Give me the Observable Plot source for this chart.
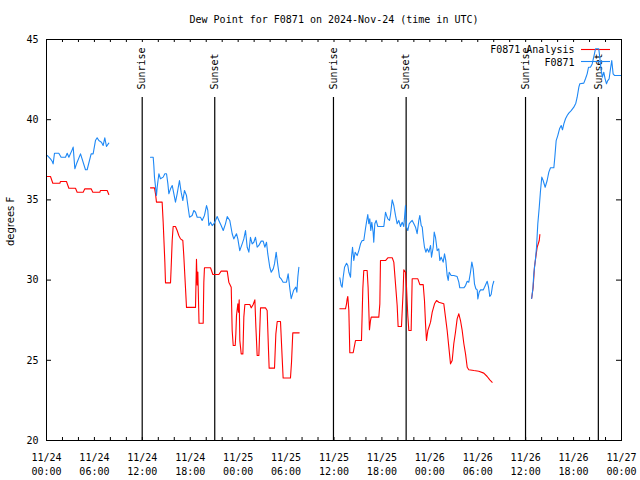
<!DOCTYPE html>
<html><head><meta charset="utf-8">
<script src="https://cdn.jsdelivr.net/npm/d3@7"></script>
<script src="https://cdn.jsdelivr.net/npm/@observablehq/plot@0.6"></script>
<style>body{margin:0;background:#fff} svg{display:block}</style>
</head><body><div id="chart"></div>
<script>
const title = "Dew Point for F0871 on 2024-Nov-24 (time in UTC)";
const yLabel = "degrees F";
const seriesNames = ["F0871 Analysis", "F0871"];
const seriesColors = ["#ff0000", "#1e88f5"];
const baseTime = "2024-11-24T00:00Z";
const endTime = "2024-11-27T00:00Z";
const yTicks = [20, 25, 30, 35, 40, 45];
const xLabelTicks = ["2024-11-24T00:00Z","2024-11-24T06:00Z","2024-11-24T12:00Z","2024-11-24T18:00Z",
  "2024-11-25T00:00Z","2024-11-25T06:00Z","2024-11-25T12:00Z","2024-11-25T18:00Z",
  "2024-11-26T00:00Z","2024-11-26T06:00Z","2024-11-26T12:00Z","2024-11-26T18:00Z","2024-11-27T00:00Z"];
const sunLabels = ["Sunrise","Sunset","Sunrise","Sunset","Sunrise","Sunset"];
const sunTimes = ["2024-11-24T11:59Z","2024-11-24T21:04Z","2024-11-25T11:56Z","2024-11-25T21:02Z","2024-11-26T11:59Z","2024-11-26T21:06Z"];

// [hours after baseTime, degrees F]
const obs1 = [[0.08,37.77],[0.5,37.56],[0.71,37.41],[0.83,37.25],[1.0,37.91],[1.54,37.91],[1.83,37.66],[2.38,37.66],[2.59,37.91],[2.8,37.66],[3.21,38.12],[3.34,38.29],[3.55,36.94],[3.76,37.25],[4.26,37.87],[4.88,36.88],[5.09,36.88],[5.59,37.87],[5.84,37.87],[6.13,38.7],[6.34,38.87],[6.55,38.7],[6.88,38.6],[7.09,38.39],[7.3,38.87],[7.51,38.33],[7.8,38.54]];
const obs2 = [[13.02,37.66],[13.36,37.66],[13.44,37.14],[13.52,36.42],[13.77,35.27],[13.86,35.79],[14.07,36.63],[14.27,36.32],[14.61,36.42],[14.82,36.63],[15.03,36.63],[15.2,36.0],[15.32,35.38],[15.53,35.69],[15.74,35.9],[15.95,35.38],[16.15,34.86],[16.36,35.38],[16.65,36.21],[16.86,35.48],[17.07,34.96],[17.28,35.59],[17.53,35.27],[17.7,34.65],[17.91,33.92],[18.24,34.03],[18.45,34.34],[18.66,34.23],[18.87,33.92],[19.28,33.92],[19.49,33.72],[19.78,34.03],[20.04,34.65],[20.2,34.34],[20.33,33.4],[20.54,33.61],[20.75,33.4],[20.95,33.5],[21.16,33.72],[21.37,33.96],[21.58,33.72],[21.87,33.4],[22.13,33.09],[22.41,33.51],[22.63,33.96],[22.95,33.72],[23.25,32.89],[23.45,32.57],[23.79,32.89],[23.96,32.57],[24.2,31.84],[24.5,32.26],[24.71,32.57],[24.92,33.09],[25.13,32.05],[25.34,31.74],[25.54,32.67],[25.75,32.26],[25.96,32.36],[26.17,32.67],[26.38,32.05],[26.59,32.16],[26.88,32.43],[27.13,32.43],[27.34,32.05],[27.55,32.36],[27.71,31.63],[27.96,30.8],[28.14,30.49],[28.39,30.7],[28.55,31.01],[28.76,31.74],[28.97,30.91],[29.18,30.18],[29.38,30.08],[29.63,29.87],[30.05,29.87],[30.26,30.39],[30.47,29.46],[30.64,28.84],[30.93,29.35],[31.22,29.56],[31.35,29.25],[31.47,30.18],[31.6,30.8]];
const obs3 = [[36.73,30.14],[36.9,29.66],[37.02,29.56],[37.15,30.18],[37.32,30.8],[37.57,31.05],[37.73,30.91],[37.86,30.49],[38.07,30.18],[38.19,31.43],[38.32,32.05],[38.48,31.22],[38.65,31.74],[38.9,31.53],[39.11,31.84],[39.32,32.26],[39.53,32.47],[39.73,32.47],[39.94,33.2],[40.07,33.61],[40.23,34.09],[40.36,33.51],[40.48,33.82],[40.61,33.09],[40.73,33.61],[40.9,32.99],[40.98,32.36],[41.11,33.51],[41.28,33.72],[41.49,33.34],[42.24,33.34],[42.45,34.23],[42.58,34.03],[42.74,33.82],[42.95,33.72],[43.08,34.09],[43.29,35.0],[43.49,34.65],[43.7,34.03],[43.91,33.51],[44.11,33.72],[44.33,33.34],[44.54,33.61],[44.74,33.34],[44.95,34.65],[45.08,33.3],[45.24,33.09],[45.41,33.51],[45.58,33.61],[45.79,33.72],[46.0,33.51],[46.21,33.3],[46.41,32.89],[46.62,33.72],[46.75,34.03],[46.92,33.4],[47.05,33.3],[47.17,32.67],[47.33,32.05],[47.5,31.74],[47.67,31.95],[47.88,31.74],[48.09,32.16],[48.21,31.43],[48.42,32.05],[48.55,32.99],[48.71,32.67],[48.92,31.84],[49.12,31.95],[49.25,31.22],[49.42,31.43],[49.67,31.12],[49.84,31.64],[50.0,31.22],[50.17,30.29],[50.3,29.98],[50.42,30.49],[50.67,30.29],[51.0,30.29],[51.42,30.22],[51.63,29.87],[51.75,29.52],[52.26,29.52],[52.47,29.66],[52.68,29.93],[52.88,29.87],[53.09,30.49],[53.26,31.12],[53.43,30.7],[53.59,29.77],[53.76,29.46],[53.93,29.39],[54.01,28.83],[54.18,29.25],[54.35,29.39],[54.68,29.39],[54.85,29.56],[55.18,29.93],[55.35,29.56],[55.51,28.98],[55.68,29.1],[55.85,29.66],[56.01,29.93]];
const obs4 = [[60.75,28.85],[60.9,29.46],[61.02,30.39],[61.23,31.33],[61.36,32.05],[61.52,33.51],[61.7,34.54],[61.86,35.59],[62.02,36.42],[62.19,36.21],[62.44,35.79],[62.69,36.21],[62.9,36.73],[63.11,37.0],[63.53,37.0],[63.65,37.66],[63.82,38.7],[64.02,39.01],[64.24,39.43],[64.45,39.64],[64.61,39.37],[64.78,39.74],[64.99,40.06],[65.2,40.26],[65.4,40.41],[65.7,40.57],[66.03,40.78],[66.28,41.03],[66.45,41.4],[66.66,42.03],[66.78,42.24],[67.28,42.28],[67.49,42.55],[67.7,42.86],[67.87,43.27],[68.11,43.27],[68.33,43.48],[68.61,44.11],[68.74,44.42],[69.15,44.42],[69.28,43.9],[69.45,43.07],[69.61,42.65],[69.78,42.96],[69.95,42.55],[70.12,42.24],[70.28,42.44],[70.45,42.55],[70.62,43.17],[70.78,43.69],[70.95,42.86],[71.12,42.76],[72.0,42.76]];

const ana1 = [[0.08,36.46],[0.5,36.46],[0.79,36.04],[1.67,36.04],[1.75,36.15],[2.5,36.15],[2.8,35.73],[3.63,35.73],[3.84,35.48],[4.59,35.48],[4.8,35.69],[5.59,35.69],[5.8,35.48],[6.68,35.48],[6.76,35.59],[7.6,35.59],[7.8,35.34]];
const ana2 = [[13.02,35.75],[13.52,35.75],[13.65,35.38],[13.77,34.86],[14.48,34.86],[14.61,33.61],[14.82,31.12],[14.9,29.83],[15.53,29.83],[15.61,30.8],[15.74,32.47],[15.86,33.34],[16.15,33.34],[16.36,33.09],[16.57,32.78],[16.78,32.57],[17.07,32.47],[17.19,31.53],[17.41,29.46],[17.53,28.3],[18.66,28.3],[18.78,31.3],[18.87,29.7],[18.95,30.5],[19.1,27.31],[19.62,27.31],[19.7,29.87],[19.78,30.77],[20.54,30.77],[20.83,30.35],[21.58,30.35],[21.87,30.56],[22.63,30.56],[22.83,29.87],[23.13,29.56],[23.25,26.86],[23.38,25.92],[23.63,25.92],[23.71,26.65],[23.79,27.79],[23.96,28.52],[24.04,28.0],[24.13,28.77],[24.21,26.23],[24.38,25.4],[24.59,25.4],[24.71,27.69],[24.84,28.48],[25.46,28.48],[25.63,28.27],[25.88,28.48],[26.09,28.77],[26.22,27.06],[26.38,25.3],[26.59,25.3],[26.67,26.44],[26.8,28.27],[27.42,28.27],[27.63,28.1],[27.8,25.61],[27.88,24.51],[28.55,24.51],[28.72,26.65],[28.89,27.42],[29.3,27.42],[29.51,25.15],[29.63,23.9],[30.55,23.9],[30.68,24.88],[30.84,26.71],[31.64,26.71]];
const ana3 = [[36.73,28.21],[37.44,28.21],[37.57,28.52],[37.65,28.83],[37.73,28.98],[37.86,28.1],[37.98,25.47],[38.4,25.47],[38.69,26.23],[39.44,26.23],[39.61,29.46],[39.73,30.6],[40.15,30.6],[40.27,29.56],[40.44,26.9],[40.57,27.48],[40.66,27.69],[41.61,27.69],[41.74,28.52],[41.82,31.22],[42.45,31.22],[42.74,31.39],[43.29,31.39],[43.49,31.12],[43.7,29.77],[43.91,28.42],[44.03,27.11],[44.45,27.11],[44.66,29.35],[44.74,30.64],[44.95,30.49],[45.08,29.56],[45.24,27.79],[45.37,26.86],[45.66,26.86],[45.79,30.08],[46.5,30.08],[46.75,29.72],[47.17,29.72],[47.33,28.73],[47.46,27.27],[47.58,26.23],[47.75,26.86],[48.09,27.38],[48.3,28.0],[48.59,28.52],[48.84,28.73],[49.12,28.62],[49.75,28.52],[49.96,27.69],[50.17,26.86],[50.38,25.82],[50.59,24.78],[50.8,24.99],[51.0,26.03],[51.21,26.75],[51.42,27.58],[51.63,27.9],[51.84,27.48],[52.05,26.86],[52.26,26.03],[52.47,25.4],[52.68,24.57],[52.88,24.41],[53.51,24.36],[54.13,24.32],[54.76,24.2],[55.18,23.99],[55.51,23.78],[55.81,23.63]];
const ana4 = [[60.75,28.85],[60.94,29.56],[61.1,30.8],[61.27,31.43],[61.44,32.05],[61.7,32.47],[61.78,32.84]];

const base = new Date(baseTime).getTime();
const toRows = (segs) => segs.flatMap((seg, i) => seg.map(([h, v]) => ({time: new Date(base + h * 3600e3), value: v, seg: i})));
const obsRows = toRows([obs1, obs2, obs3, obs4]);
const anaRows = toRows([ana1, ana2, ana3, ana4]);
const sunRows = sunTimes.map((t, i) => ({time: new Date(t), label: sunLabels[i]}));
const x0 = new Date(baseTime), x1 = new Date(endTime);
const xTickDates = d3.utcHour.every(2).range(x0, new Date(x1.getTime() + 1));
const xLabelDates = xLabelTicks.map(s => new Date(s));

const W = 640, H = 480, mL = 46, mR = 19, mT = 39, mB = 40;
const fw = W - mL - mR, fh = H - mT - mB;
const mono = "DejaVu Sans Mono";

const plot = Plot.plot({
  width: W, height: H, marginLeft: mL, marginRight: mR, marginTop: mT, marginBottom: mB,
  style: {fontFamily: mono, fontSize: "10px", background: "#fff", color: "#000", overflow: "visible"},
  x: {type: "utc", domain: [x0, x1]},
  y: {domain: [20, 45]},
  marks: [
    Plot.ruleX(sunRows, {x: "time", insetTop: 58, stroke: "#000", strokeWidth: 1.2}),
    Plot.text(sunRows, {x: "time", text: "label", frameAnchor: "top", dy: 50, rotate: -90, textAnchor: "start", lineAnchor: "middle", fill: "#000"}),
    Plot.line(anaRows, {x: "time", y: "value", z: "seg", stroke: seriesColors[0], strokeWidth: 1.1}),
    Plot.line(obsRows, {x: "time", y: "value", z: "seg", stroke: seriesColors[1], strokeWidth: 1.1}),
    Plot.frame({stroke: "#000"}),
    Plot.ruleX(xTickDates, {x: d => d, insetTop: fh - 3, stroke: "#000"}),
    Plot.ruleX(xTickDates, {x: d => d, insetBottom: fh - 3, stroke: "#000"}),
    Plot.ruleY(yTicks, {y: d => d, insetRight: fw - 5, stroke: "#000"}),
    Plot.ruleY(yTicks, {y: d => d, insetLeft: fw - 5, stroke: "#000"}),
    Plot.axisX({ticks: xLabelDates, tickSize: 0, tickPadding: 11, tickFormat: d3.utcFormat("%m/%d\n%H:%M"), lineHeight: 1.4, label: null}),
    Plot.axisY({ticks: yTicks, tickSize: 0, tickPadding: 8, label: null}),
    Plot.text([title], {frameAnchor: "top", dy: -20, lineAnchor: "middle", fill: "#000"}),
    Plot.text([yLabel], {frameAnchor: "left", dx: -36, dy: 6, rotate: -90, lineAnchor: "middle", fill: "#000", fontFamily: "DejaVu Sans"}),
    Plot.text([seriesNames[0]], {frameAnchor: "top-right", dx: -47, dy: 10, textAnchor: "end", lineAnchor: "middle", fill: "#000"}),
    Plot.text([seriesNames[1]], {frameAnchor: "top-right", dx: -47, dy: 23, textAnchor: "end", lineAnchor: "middle", fill: "#000"})
  ]
});
document.getElementById("chart").appendChild(plot);

// legend samples, inserted below each series' data line
const lineGroups = d3.select(plot).selectAll('g[aria-label="line"]').nodes();
[[49.5, 0], [61.5, 1]].forEach(([y, i]) => {
  const el = document.createElementNS("http://www.w3.org/2000/svg", "line");
  el.setAttribute("x1", 581); el.setAttribute("x2", 610);
  el.setAttribute("y1", y); el.setAttribute("y2", y);
  el.setAttribute("stroke", seriesColors[i]); el.setAttribute("stroke-width", 1.1);
  plot.insertBefore(el, lineGroups[i]);
});
</script>
</body></html>
